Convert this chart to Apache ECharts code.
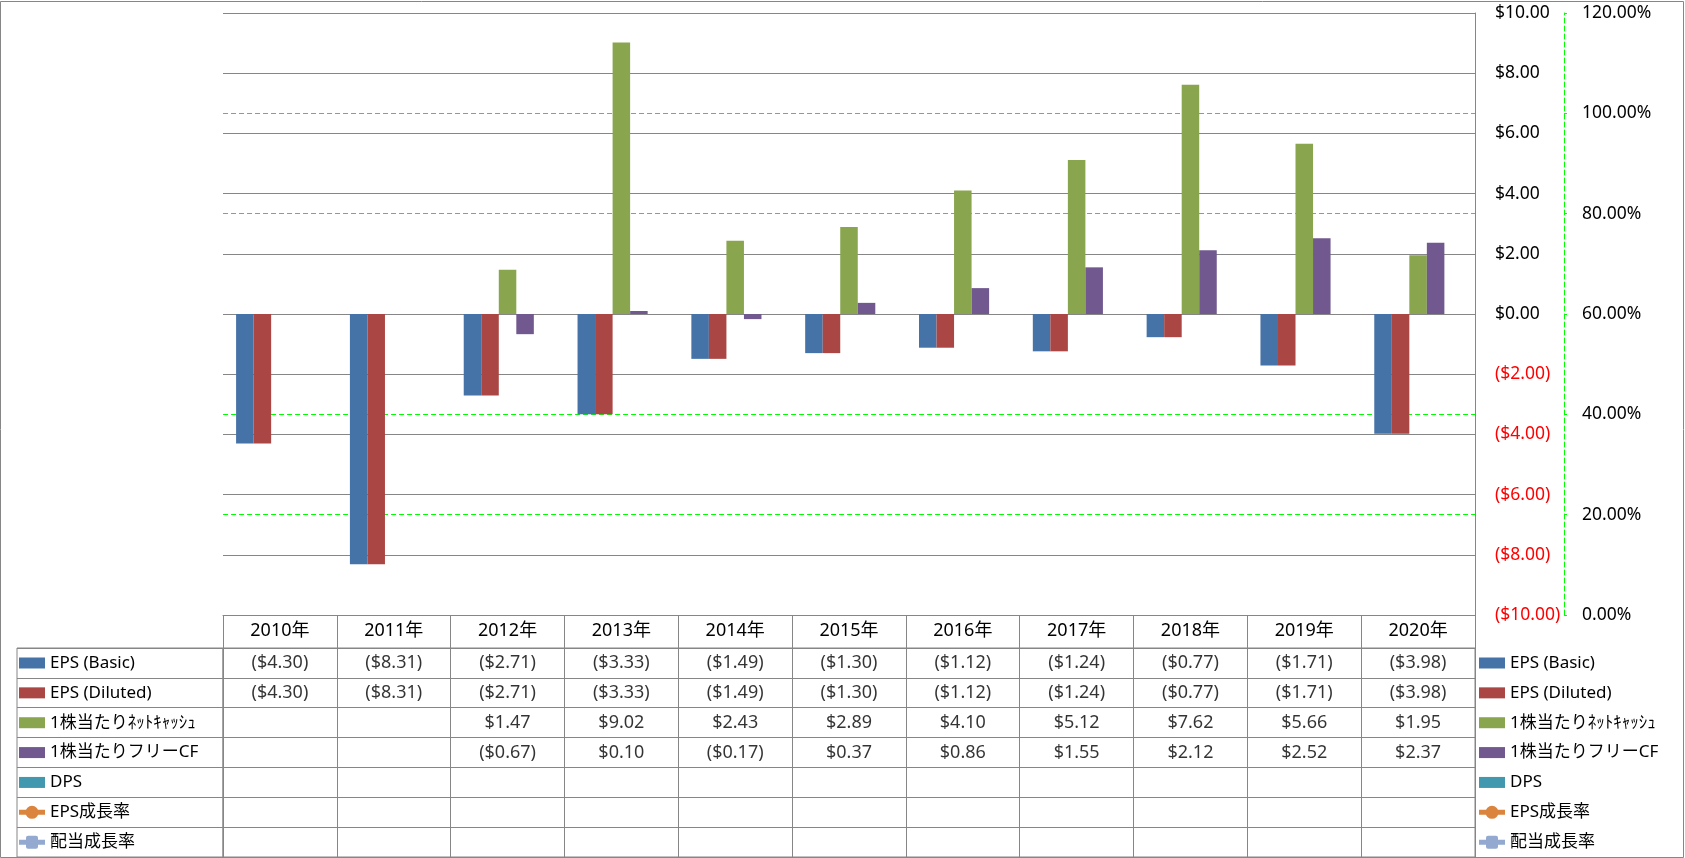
<!DOCTYPE html>
<html>
<head>
<meta charset="utf-8">
<script src="https://cdn.jsdelivr.net/npm/echarts@6/dist/echarts.min.js"></script>
<style>
html,body{margin:0;padding:0;background:#fff;}
#chart{width:1685px;height:858px;}
</style>
</head>
<body>
<div id="chart"></div>
<script>
// ---- data ----
const categories = ['2010年','2011年','2012年','2013年','2014年','2015年','2016年','2017年','2018年','2019年','2020年'];
const epsBasic   = [-4.30, -8.31, -2.71, -3.33, -1.49, -1.30, -1.12, -1.24, -0.77, -1.71, -3.98];
const epsDiluted = [-4.30, -8.31, -2.71, -3.33, -1.49, -1.30, -1.12, -1.24, -0.77, -1.71, -3.98];
const netCash    = [null, null, 1.47, 9.02, 2.43, 2.89, 4.10, 5.12, 7.62, 5.66, 1.95];
const freeCF     = [null, null, -0.67, 0.10, -0.17, 0.37, 0.86, 1.55, 2.12, 2.52, 2.37];
const dps        = [null, null, null, null, null, null, null, null, null, null, null];
const epsGrowth  = [null, null, null, null, null, null, null, null, null, null, null];
const divGrowth  = [null, null, null, null, null, null, null, null, null, null, null];
const seriesNames = ['EPS (Basic)', 'EPS (Diluted)', '1株当たりﾈｯﾄｷｬｯｼｭ', '1株当たりフリーCF', 'DPS', 'EPS成長率', '配当成長率'];
const dollarTicks = {min: -10, max: 10, interval: 2};
const pctTicks = {min: 0, max: 120, interval: 20};

// ---- helpers ----
const FONT = "'Noto Sans', 'Noto Sans CJK JP', sans-serif";
const GRAY = '#868686';
const GREEN = '#00FF00';
function fmtDollar(v) {
  if (v === null || v === undefined) return '';
  return v < 0 ? '($' + (-v).toFixed(2) + ')' : '$' + v.toFixed(2);
}
const rowsData = [epsBasic, epsDiluted, netCash, freeCF, dps, epsGrowth, divGrowth];
const tableCells = [];
rowsData.forEach((arr, r) => {
  arr.forEach((v, c) => {
    if (v !== null && v !== undefined) tableCells.push([c, r, fmtDollar(v)]);
  });
});

// legend icons (26 x 14 box)
const ICON_BAR = 'path://M0,0M26,14M0,1.5L26,1.5L26,12.5L0,12.5Z';
const ICON_CIRCLE = 'path://M0,0M26,14M0,4.5L26,4.5L26,9.5L0,9.5ZM6.5,7A6.5,6.5,0,1,1,19.5,7A6.5,6.5,0,1,1,6.5,7Z';
const ICON_SQUARE = 'path://M0,0M26,14M0,4.5L26,4.5L26,9.5L0,9.5ZM9,0.5L17,0.5Q19,0.5,19,2.5L19,11.5Q19,13.5,17,13.5L9,13.5Q7,13.5,7,11.5L7,2.5Q7,0.5,9,0.5Z';
const legendIcons = [ICON_BAR, ICON_BAR, ICON_BAR, ICON_BAR, ICON_BAR, ICON_CIRCLE, ICON_SQUARE];

const chart = echarts.init(document.getElementById('chart'), null, {renderer: 'canvas'});
const legendBase = {
  data: seriesNames.map((n, i) => ({name: n, icon: legendIcons[i]})),
  orient: 'vertical',
  top: 653,
  padding: 0,
  itemWidth: 26,
  itemHeight: 14,
  itemGap: 9.86,
  selectedMode: false,
  textStyle: {fontFamily: FONT, fontSize: 17, lineHeight: 20, color: '#000'}
};

const option = {
  animation: false,
  backgroundColor: '#fff',
  textStyle: {fontFamily: FONT},
  graphic: [{
    type: 'rect', z: 100, silent: true,
    shape: {x: 0.5, y: 1.5, width: 1683, height: 856},
    style: {fill: null, stroke: GRAY, lineWidth: 1}
  }],
  legend: [
    Object.assign({}, legendBase, {left: 19}),
    Object.assign({}, legendBase, {left: 1479})
  ],
  grid: [
    {left: 223, top: 13, width: 1252, height: 602, containLabel: false},
    {left: 223, top: 648, width: 1252, height: 209, show: true, borderColor: GRAY, borderWidth: 1, backgroundColor: 'transparent'},
    {left: 17, top: 648, width: 206, height: 209, show: true, borderColor: GRAY, borderWidth: 1, backgroundColor: 'transparent'}
  ],
  xAxis: [
    {
      type: 'category', gridIndex: 0, data: categories, position: 'bottom',
      axisLine: {show: true, onZero: false, lineStyle: {color: GRAY, width: 1}},
      axisTick: {show: true, interval: 0, length: 33, inside: false, lineStyle: {color: GRAY}},
      axisLabel: {show: true, interval: 0, margin: 16, verticalAlign: 'middle', fontSize: 18, color: '#000', fontFamily: FONT},
      splitLine: {show: false}
    },
    {
      type: 'category', gridIndex: 1, data: categories,
      axisLine: {show: false}, axisTick: {show: false}, axisLabel: {show: false},
      splitLine: {show: true, interval: 0, lineStyle: {color: GRAY, width: 1}}
    },
    {
      type: 'category', gridIndex: 2, data: [''],
      axisLine: {show: false}, axisTick: {show: false}, axisLabel: {show: false}, splitLine: {show: false}
    }
  ],
  yAxis: [
    {
      type: 'value', gridIndex: 0, position: 'right', z: 1,
      min: dollarTicks.min, max: dollarTicks.max, interval: dollarTicks.interval,
      axisLine: {show: true, lineStyle: {color: GRAY, width: 1}},
      axisTick: {show: false},
      axisLabel: {
        margin: 20, fontSize: 17.5, fontFamily: FONT,
        formatter: fmtDollar,
        color: function (v) { return Number(v) < 0 ? '#FF0000' : '#000'; }
      },
      splitLine: {show: true, lineStyle: {color: GRAY, width: 1}}
    },
    {
      type: 'value', gridIndex: 0, position: 'right', offset: 89,
      min: pctTicks.min, max: pctTicks.max, interval: pctTicks.interval,
      axisLine: {show: true, lineStyle: {color: GREEN, width: 1, type: [5, 3]}},
      axisTick: {show: true, length: 3, inside: false, lineStyle: {color: GREEN}},
      axisLabel: {
        margin: 18, fontSize: 17.5, fontFamily: FONT, color: '#000',
        formatter: function (v) { return Number(v).toFixed(2) + '%'; }
      },
      splitLine: {show: true, lineStyle: {color: GREEN, width: 1, type: [5, 3]}}
    },
    {
      type: 'category', gridIndex: 1, data: seriesNames, inverse: true,
      axisLine: {show: false}, axisTick: {show: false}, axisLabel: {show: false},
      splitLine: {show: true, interval: 0, lineStyle: {color: GRAY, width: 1}}
    },
    {
      type: 'category', gridIndex: 2, data: seriesNames, inverse: true,
      axisLine: {show: false}, axisTick: {show: false}, axisLabel: {show: false},
      splitLine: {show: true, interval: 0, lineStyle: {color: GRAY, width: 1}}
    }
  ],
  series: [
    {name: seriesNames[0], type: 'bar', xAxisIndex: 0, yAxisIndex: 0, data: epsBasic, itemStyle: {color: '#4572A7'}, barGap: '0%', barCategoryGap: '23%'},
    {name: seriesNames[1], type: 'bar', xAxisIndex: 0, yAxisIndex: 0, data: epsDiluted, itemStyle: {color: '#AA4643'}, barGap: '0%', barCategoryGap: '23%'},
    {name: seriesNames[2], type: 'bar', xAxisIndex: 0, yAxisIndex: 0, data: netCash, itemStyle: {color: '#89A54E'}, barGap: '0%', barCategoryGap: '23%'},
    {name: seriesNames[3], type: 'bar', xAxisIndex: 0, yAxisIndex: 0, data: freeCF, itemStyle: {color: '#71588F'}, barGap: '0%', barCategoryGap: '23%'},
    {name: seriesNames[4], type: 'bar', xAxisIndex: 0, yAxisIndex: 0, data: dps, itemStyle: {color: '#4198AF'}, barGap: '0%', barCategoryGap: '23%'},
    {name: seriesNames[5], type: 'line', xAxisIndex: 0, yAxisIndex: 1, data: epsGrowth, symbol: 'circle', symbolSize: 10,
      itemStyle: {color: '#DB843D'}, lineStyle: {color: '#DB843D', width: 4}},
    {name: seriesNames[6], type: 'line', xAxisIndex: 0, yAxisIndex: 1, data: divGrowth, symbol: 'rect', symbolSize: 10,
      itemStyle: {color: '#93A9CF'}, lineStyle: {color: '#93A9CF', width: 4}},
    {
      name: 'table', type: 'scatter', xAxisIndex: 1, yAxisIndex: 2, data: tableCells,
      symbolSize: 0, silent: true,
      label: {show: true, position: 'inside', fontSize: 18, fontFamily: FONT, color: '#000',
        formatter: function (p) { return p.value[2]; }}
    }
  ]
};
chart.setOption(option);
</script>
</body>
</html>
